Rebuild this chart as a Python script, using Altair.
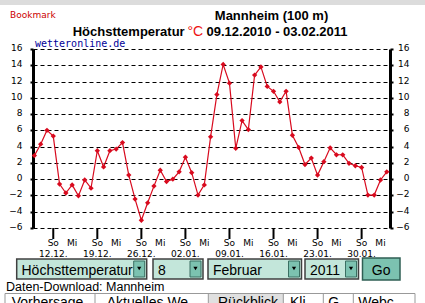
import altair as alt
import pandas as pd

# ---- data ----
start_date = "2010-12-09"
tmax = [2.9, 4.3, 6.0, 5.3, -0.6, -1.7, -0.7, -2.05, -0.1, -1.1,
        3.5, 1.5, 3.5, 3.7, 4.5, 0.5, -2.45, -5.05, -2.9, -0.85,
        1.1, -0.3, 0.0, 0.9, 2.7, 0.8, -1.95, -0.7, 5.2, 10.4,
        14.1, 11.8, 3.8, 7.2, 6.1, 12.8, 13.8, 11.4, 10.8, 9.5,
        10.8, 5.4, 3.9, 1.8, 2.6, 0.5, 2.15, 3.85, 3.0, 3.0,
        1.95, 1.65, 1.45, -1.95, -1.95, -0.1, 0.9]
y_ticks = [-6, -4, -2, 0, 2, 4, 6, 8, 10, 12, 14, 16]
weekday_names = {6: "So", 2: "Mi"}

dates = pd.date_range(start_date, periods=len(tmax), freq="D")
df = pd.DataFrame({"d": range(len(tmax)), "t": tmax})

sundays = [i for i, dt in enumerate(dates) if dt.dayofweek == 6]
wednesdays = [i for i, dt in enumerate(dates) if dt.dayofweek == 2]
df_sun = pd.DataFrame({"d": sundays,
                       "lab": [dates[i].strftime("%d.%m.") for i in sundays],
                       "wd": [weekday_names[6]] * len(sundays)})
df_wed = pd.DataFrame({"d": wednesdays, "wd": [weekday_names[2]] * len(wednesdays)})
minor_ticks = [round(sundays[0] + 0.7 * k, 3) for k in range(-4, 77)]

# ---- layout ----
W, H = 357, 179
OX, OY = 33, 49
RED = "#d80a1e"
xs = alt.Scale(domain=[-0.22, 56.51], nice=False, zero=False)
ys = alt.Scale(domain=[-6, 16], nice=False, zero=False)

base = alt.Chart(df)
line = base.mark_line(color=RED, strokeWidth=1.2).encode(
    x=alt.X("d:Q", scale=xs, axis=alt.Axis(values=minor_ticks, labels=False, tickSize=5,
                                           tickWidth=1.5, tickColor="black", domainColor="black",
                                           domainWidth=3, grid=False, title=None)),
    y=alt.Y("t:Q", scale=ys, axis=alt.Axis(values=y_ticks, orient="left", domainColor="black",
                                           domainWidth=3, tickColor="black", tickWidth=2, tickSize=3,
                                           labelFont="DejaVu Sans", labelFontSize=9, labelColor="black",
                                           labelPadding=8, labelOffset=-1.5, grid=True, gridColor="black",
                                           gridDash=[4, 3], gridWidth=1, title=None)),
)
pts = base.mark_point(shape="diamond", filled=True, color=RED, size=28, opacity=1).encode(
    x=alt.X("d:Q", scale=xs, axis=None),
    y=alt.Y("t:Q", scale=ys, axis=None),
)
right_axis = base.mark_line(opacity=0).encode(
    x=alt.X("d:Q", scale=xs, axis=None),
    y=alt.Y("t:Q", scale=ys, axis=alt.Axis(values=y_ticks, orient="right", domainColor="black",
                                           domainWidth=3, tickColor="black", tickWidth=2, tickSize=3,
                                           labelFont="DejaVu Sans", labelFontSize=9, labelColor="black",
                                           labelAlign="right", labelPadding=16, labelOffset=-1.5,
                                           grid=False, title=None)),
)
major = alt.Chart(df_sun).mark_rule(color="black", strokeWidth=2).encode(
    x=alt.X("d:Q", scale=xs, axis=None), y=alt.value(H), y2=alt.value(H + 11))
so_txt = alt.Chart(df_sun).mark_text(font="DejaVu Sans", fontSize=9, color="black", baseline="middle").encode(
    x=alt.X("d:Q", scale=xs, axis=None), y=alt.value(194), text="wd:N")
mi_txt = alt.Chart(df_wed).mark_text(font="DejaVu Sans", fontSize=9, color="black", baseline="middle").encode(
    x=alt.X("d:Q", scale=xs, axis=None), y=alt.value(194), text="wd:N")
date_txt = alt.Chart(df_sun).mark_text(font="DejaVu Sans", fontSize=9, color="black", baseline="middle").encode(
    x=alt.X("d:Q", scale=xs, axis=None), y=alt.value(204.5), text="lab:N")

blank = pd.DataFrame({"k": [0]})


def T(x, y, s, size=9, font="DejaVu Sans", color="black", weight="normal", align="left", limit=0):
    kw = dict(text=s, fontSize=size, font=font, color=color, fontWeight=weight,
              align=align, baseline="alphabetic")
    if limit:
        kw.update(limit=limit, ellipsis="")
    return alt.Chart(blank).mark_text(**kw).encode(x=alt.value(x - OX), y=alt.value(y - OY))


def R(x1, y1, x2, y2, fill, stroke=None, sw=1):
    kw = dict(fill=fill, opacity=1)
    if stroke:
        kw.update(stroke=stroke, strokeWidth=sw)
    return alt.Chart(blank).mark_rect(**kw).encode(
        x=alt.value(x1 - OX), x2=alt.value(x2 - OX), y=alt.value(y1 - OY), y2=alt.value(y2 - OY))


def L(x1, y1, x2, y2, color="#999999", sw=1):
    return alt.Chart(blank).mark_rule(color=color, strokeWidth=sw).encode(
        x=alt.value(x1 - OX), x2=alt.value(x2 - OX), y=alt.value(y1 - OY), y2=alt.value(y2 - OY))


def ARROW(x, y):
    return alt.Chart(blank).mark_point(shape="triangle-down", filled=True, color="black", size=18,
                                       opacity=1).encode(x=alt.value(x - OX), y=alt.value(y - OY))


SEL = "#c3e6da"
BTN = "#7cc2b0"
deco = [
    R(0, 0, 425, 5, "#dcdcdc"),
    T(10, 18, "Bookmark", size=9, color="#cc0000"),
    T(271.5, 19.5, "Mannheim (100 m)", size=13, font="Liberation Sans", weight="bold", align="center"),
    T(72.7, 35.5, "Höchsttemperatur", size=13, font="Liberation Sans", weight="bold"),
    T(187.5, 35.5, "°C", size=14, font="Liberation Sans", color="#ee1111"),
    T(206.5, 35.5, "09.12.2010 - 03.02.2011", size=13, font="Liberation Sans", weight="bold"),
    T(35, 46.5, "wetteronline.de", size=10, font="DejaVu Sans Mono", color="#000099"),
]
selects = [(16.7, 146.7, "Höchsttemperatur", 21.5), (153, 203, "8", 158),
           (208, 301.5, "Februar", 213), (305, 358.5, "2011", 310)]
for x1, x2, s, tx in selects:
    deco += [R(x1, 259, x2, 279, SEL, "#404040", 1.5),
             R(x2 - 13, 261, x2 - 2, 277, BTN, "#3a6f62", 1),
             ARROW(x2 - 7.5, 268.5),
             T(tx, 275, s, size=14, font="Liberation Sans")]
deco += [R(362.5, 258, 400, 280, BTN, "#2f5f54", 1.5),
         T(381.2, 275, "Go", size=14, font="Liberation Sans", align="center"),
         T(6, 291, "Daten-Download: Mannheim", size=12.5, font="Liberation Sans"),
         R(208.3, 293.5, 283.3, 304, "#e0e0e0"),
         L(5, 293.5, 415, 293.5)]
for xv in [5, 95, 208.3, 283.3, 323.3, 353.3, 415]:
    deco.append(L(xv, 293.5, xv, 304))
for tx, s, lim in [(11.7, "Vorhersage", 80), (106.7, "Aktuelles Wetter", 96), (218, "Rückblick", 62),
                   (290, "Klima", 30), (328.3, "Gesundheit", 27), (358.3, "Webcams", 52)]:
    deco.append(T(tx, 307, s, size=14, font="Liberation Sans", limit=lim))

chart = alt.layer(line, pts, right_axis, major, so_txt, mi_txt, date_txt, *deco).resolve_scale(
    y="independent"
).properties(
    width=W, height=H,
    autosize=alt.AutoSizeParams(type="none"),
    padding={"left": OX, "top": OY, "right": 425 - OX - W, "bottom": 303 - OY - H},
    background="white",
).configure_view(stroke=None)

chart.save("out.html", embed_options={"renderer": "svg", "actions": False})
